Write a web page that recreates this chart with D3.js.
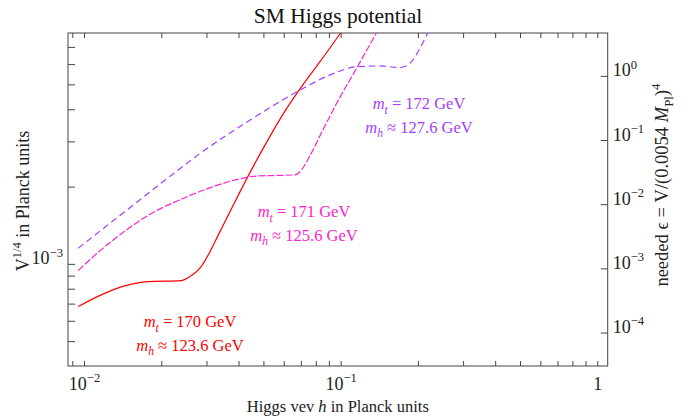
<!DOCTYPE html>
<html>
<head>
<meta charset="utf-8">
<script src="https://cdn.jsdelivr.net/npm/d3@7"></script>
<style>
  body { margin: 0; background: #fff; }
  text, tspan { font-family: "Liberation Serif", "Times New Roman", serif; }
</style>
</head>
<body>
<svg id="chart" width="688" height="420"></svg>
<script>
// values: [h, V^(1/4)] in Planck units
const mt170 = [[0.0095, 6.82e-4], [0.01166, 7.57e-4], [0.01438, 8.21e-4], [0.01773, 8.53e-4],
  [0.02389, 8.61e-4], [0.02615, 8.98e-4], [0.0286, 9.76e-4], [0.03093, 1.113e-3],
  [0.03322, 1.285e-3], [0.03569, 1.483e-3], [0.03836, 1.712e-3], [0.04426, 2.261e-3],
  [0.05156, 2.987e-3], [0.06007, 3.873e-3], [0.07121, 4.977e-3], [0.08296, 6.116e-3],
  [0.09927, 7.86e-3], [0.1105, 9.16e-3]]
const mt171 = [[0.0095, 9.42e-4], [0.01152, 1.123e-3], [0.01379, 1.297e-3], [0.01805, 1.559e-3],
  [0.02361, 1.775e-3], [0.03093, 1.977e-3], [0.04048, 2.143e-3], [0.04842, 2.201e-3],
  [0.05794, 2.211e-3], [0.06632, 2.221e-3], [0.07062, 2.333e-3], [0.07586, 2.634e-3],
  [0.08524, 3.324e-3], [0.09665, 4.236e-3], [0.1156, 5.80e-3], [0.1384, 8.0e-3], [0.15, 9.24e-3]]
const mt172 = [[0.0095, 1.151e-3], [0.01482, 1.633e-3], [0.02285, 2.288e-3], [0.02827, 2.689e-3],
  [0.04427, 3.627e-3], [0.06934, 4.746e-3], [0.0935, 5.508e-3], [0.1153, 5.86e-3],
  [0.1422, 5.90e-3], [0.1701, 5.82e-3], [0.1861, 6.04e-3], [0.2035, 6.90e-3],
  [0.2193, 8.0e-3], [0.2307, 8.92e-3]]

const xTicks = [0.009, 0.01, 0.02, 0.03, 0.04, 0.05, 0.06, 0.07, 0.08, 0.09,
  0.1, 0.2, 0.3, 0.4, 0.5, 0.6, 0.7, 0.8, 0.9, 1]
const xLabels = { 0.01: ["10", "\u22122"], 0.1: ["10", "\u22121"], 1: ["1", ""] }
const vTicks = [5e-4, 6e-4, 7e-4, 8e-4, 9e-4, 1e-3, 2e-3, 3e-3, 4e-3, 5e-3, 6e-3, 7e-3]
const vLabels = { 0.001: ["10", "\u22123"] }
const epsTicks = [1e-4, 1e-3, 1e-2, 1e-1, 1]
const epsLabels = ["\u22124", "\u22123", "\u22122", "\u22121", "0"]
const mPl = 0.0054   // epsilon = (V^(1/4) / 0.0054)^4

const series = [
  { data: mt170, color: "#ff0000", dash: null, mt: "170", mh: "123.6" },
  { data: mt171, color: "#ff22cc", dash: "7,2", mt: "171", mh: "125.6" },
  { data: mt172, color: "#a43cff", dash: "6.5,4", mt: "172", mh: "127.6" }
]
const notes = [[190, 327], [304, 217], [419, 109]]   // label centres (x, baseline of first line)

const L = 68, R = 607.7, T = 33, B = 366
const FONT = "Liberation Serif, Times New Roman, serif"
const svg = d3.select("#chart")

const x = d3.scaleLog().domain([0.00866, 1.098]).range([L, R])
const y = d3.scaleLog().domain([4.0e-4, 7.93e-3]).range([B, T])
const yEps = d3.scaleLog()
  .domain(y.domain().map(v => Math.pow(v / mPl, 4)))
  .range([B, T])

// write text with sub/superscripts
function rich(sel, parts, size) {
  sel.text(null).attr("font-family", FONT)
  let shift = 0
  parts.forEach(p => {
    let want = p.sub ? size * 0.28 : p.sup ? -size * 0.42 : 0
    sel.append("tspan")
      .attr("dy", want - shift)
      .attr("font-size", (p.sub || p.sup) ? size * 0.7 : size)
      .attr("font-style", p.i ? "italic" : null)
      .text(p.t)
    shift = want
  })
}

svg.append("defs").append("clipPath").attr("id", "clip")
  .append("rect").attr("x", L).attr("y", T).attr("width", R - L).attr("height", B - T)

// axes
const axisColor = "#444"
const gx = svg.append("g").attr("transform", `translate(0,${B})`)
  .call(d3.axisBottom(x).tickValues(xTicks).tickSize(-5).tickSizeOuter(0).tickFormat(""))
gx.selectAll(".tick text").each(function (d) {
  let lab = xLabels[+d.toPrecision(3)]
  if (!lab) return
  d3.select(this).attr("y", 24).attr("dy", 0)
  rich(d3.select(this), [{ t: lab[0] }, { t: lab[1], sup: true }], 18)
})

svg.append("g").attr("transform", `translate(0,${T})`)
  .call(d3.axisTop(x).tickValues(xTicks).tickSize(-5).tickSizeOuter(0).tickFormat(""))

const gy = svg.append("g").attr("transform", `translate(${L},0)`)
  .call(d3.axisLeft(y).tickValues(vTicks).tickSize(-7).tickPadding(5).tickSizeOuter(0).tickFormat(""))
gy.selectAll(".tick text").each(function (d) {
  let lab = vLabels[+d.toPrecision(3)]
  if (!lab) return
  d3.select(this).attr("dy", 8)
  rich(d3.select(this), [{ t: lab[0] }, { t: lab[1], sup: true }], 18)
})

const gr = svg.append("g").attr("transform", `translate(${R},0)`)
  .call(d3.axisRight(yEps).tickValues(epsTicks).tickSize(-7).tickPadding(5).tickSizeOuter(0).tickFormat(""))
gr.selectAll(".tick text").each(function (d, i) {
  d3.select(this).attr("dy", 8)
  rich(d3.select(this), [{ t: "10" }, { t: epsLabels[i], sup: true }], 18)
})

svg.selectAll(".domain").remove()
svg.selectAll("g").attr("font-family", null).attr("font-size", null)
svg.selectAll(".tick line").attr("stroke", axisColor)
svg.selectAll(".tick text").attr("fill", "#222")

svg.append("rect").attr("x", L).attr("y", T).attr("width", R - L).attr("height", B - T)
  .attr("fill", "none").attr("stroke", axisColor).attr("stroke-width", 1)

// curves
const line = d3.line().x(d => x(d[0])).y(d => y(d[1])).curve(d3.curveMonotoneX)
svg.append("g").attr("clip-path", "url(#clip)")
  .selectAll("path").data(series).join("path")
  .attr("d", s => line(s.data))
  .attr("fill", "none")
  .attr("stroke", s => s.color)
  .attr("stroke-width", 1.2)
  .attr("stroke-dasharray", s => s.dash)

// annotations
series.forEach((s, i) => {
  let [cx, cy] = notes[i]
  let t1 = svg.append("text").attr("x", cx).attr("y", cy).attr("text-anchor", "middle").attr("fill", s.color)
  rich(t1, [{ t: "m", i: true }, { t: "t", i: true, sub: true }, { t: " = " + s.mt + " GeV" }], 16.5)
  let t2 = svg.append("text").attr("x", cx).attr("y", cy + 23.5).attr("text-anchor", "middle").attr("fill", s.color)
  rich(t2, [{ t: "m", i: true }, { t: "h", i: true, sub: true }, { t: " \u2248 " + s.mh + " GeV" }], 16.5)
})

// titles
svg.append("text").attr("x", 338).attr("y", 23).attr("text-anchor", "middle")
  .attr("font-family", FONT).attr("font-size", 21.5).attr("fill", "#111").text("SM Higgs potential")

let xt = svg.append("text").attr("x", (L + R) / 2).attr("y", 412).attr("text-anchor", "middle").attr("fill", "#222")
rich(xt, [{ t: "Higgs vev " }, { t: "h", i: true }, { t: " in Planck units" }], 16.5)

let yt = svg.append("text").attr("transform", "translate(29,201) rotate(-90)")
  .attr("text-anchor", "middle").attr("fill", "#222")
rich(yt, [{ t: "V" }, { t: "1/4", sup: true }, { t: " in Planck units" }], 18)

let rt = svg.append("text").attr("transform", "translate(668,185) rotate(-90)")
  .attr("text-anchor", "middle").attr("fill", "#222")
rich(rt, [{ t: "needed \u03f5 = V/(0.0054 " }, { t: "M", i: true }, { t: "Pl", sub: true }, { t: ")" }, { t: "4", sup: true }], 18.5)
</script>
</body>
</html>
